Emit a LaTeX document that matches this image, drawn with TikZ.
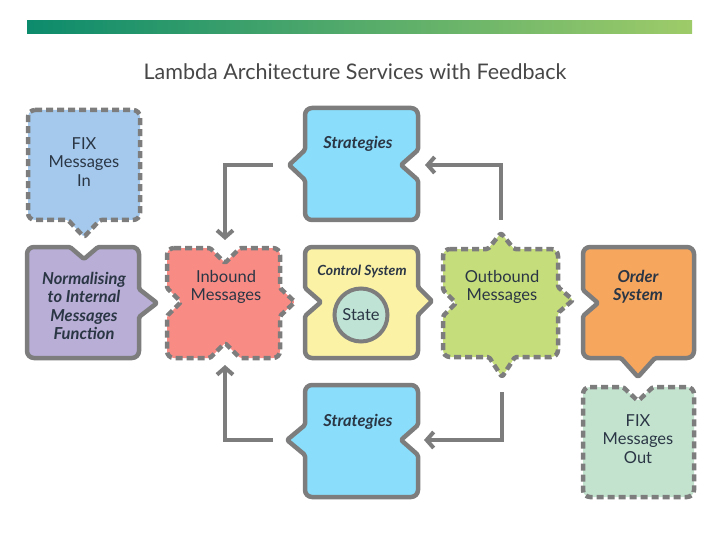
\documentclass[tikz,border=0pt]{standalone}
\usepackage{fontspec}
\setmainfont{Lato}
\usetikzlibrary{arrows.meta,calc}
\definecolor{rand}{HTML}{7D7D7D}
\definecolor{ink}{HTML}{2B3645}
\definecolor{titel}{HTML}{474747}
\definecolor{fixblue}{HTML}{A4C9EC}
\definecolor{lilac}{HTML}{B8AED6}
\definecolor{salmon}{HTML}{F98B85}
\definecolor{lemon}{HTML}{FBF2A6}
\definecolor{mint}{HTML}{BFE3D5}
\definecolor{lime}{HTML}{C6DD7B}
\definecolor{orange}{HTML}{F7A65E}
\definecolor{pale}{HTML}{C3E3CF}
\definecolor{sky}{HTML}{8ADEFB}
\definecolor{barA}{HTML}{0C8B6C}
\definecolor{barB}{HTML}{10A85A}
\definecolor{barC}{HTML}{9ECB69}

\begin{document}
\begin{tikzpicture}[x=1pt, y=-1pt, font=\fontsize{16.5}{18.5}\selectfont,
      >={Straight Barb[length=7pt,width=16pt]},
      rc/.style={rounded corners=7pt}, sc/.style={rounded corners=1.5pt},
      tile/.style={draw=rand, line width=4.5pt, line join=round},
      dashtile/.style={tile, dash pattern=on 7pt off 4pt},
      lbl/.style={align=center, text=ink},
      head/.style={lbl, font=\fontsize{16.5}{18.5}\selectfont\bfseries\itshape},
      flow/.style={draw=rand, line width=4pt, ->}]
    \useasboundingbox (0,0) rectangle (720,540);
    % bar and title
    \shade[left color=barA, middle color=barB, right color=barC] (27,21) rectangle (692,34);
    \node[text=titel, font=\fontsize{21.5}{24}\selectfont] (title) at (355,72)
         {Lambda Architecture Services with Feedback};
    % left column
    \path[dashtile, fill=fixblue] (28,110) [rc] -- (140,110) -- (140,220) [sc] -- (100,220)
         -- (84,237) -- (68,220) [rc] -- (28,220) -- cycle;
    \node[lbl] (fixin) at (84,162) {FIX\\Messages\\In};
    \path[tile, fill=lilac] (27,247) [sc] -- (70,247) -- (84,259) -- (98,247) [rc] -- (139,247)
         [sc] -- (139,289) -- (157,303) -- (139,317) [rc] -- (139,358) -- (27,358) -- cycle;
    \node[head] (norm) at (84,306) {Normalising\\to Internal\\Messages\\Function};
    % inbound
    \path[dashtile, fill=salmon] (167,248) [sc] -- (210,248) -- (225,263) -- (240,248)
         [rc] -- (280,248) [sc] -- (280,288) -- (295,302) -- (280,316) [rc] -- (280,358)
         [sc] -- (240,358) -- (225,343) -- (210,358) [rc] -- (167,358) [sc] -- (167,316)
         -- (181,302) -- (167,288) [rc] -- cycle;
    \node[lbl] (inb) at (226,287) {Inbound\\Messages};
    \coordinate (inb-n) at (225,248);
    \coordinate (inb-s) at (225,358);
    % control system
    \path[tile, fill=lemon] (305,247) [rc] -- (418,247) [sc] -- (418,287) -- (432,301)
         -- (418,315) [rc] -- (418,358) -- (305,358) [sc] -- (305,316) -- (321,302)
         -- (305,288) [rc] -- cycle;
    \node[head, font=\fontsize{14}{16}\selectfont\bfseries\itshape] (ctrl) at (362,271) {Control System};
    \node[circle, draw=rand, line width=4pt, fill=mint, minimum size=53pt, text=ink] (state) at (361,315) {State};
    % outbound
    \path[dashtile, fill=lime] (443,249) [sc] -- (488,249) -- (501,233) -- (514,249)
         [rc] -- (558,249) [sc] -- (558,287) -- (573,300) -- (558,313) [rc] -- (558,357)
         [sc] -- (515,357) -- (502,377) -- (489,357) [rc] -- (443,357) [sc] -- (443,316)
         -- (456,303) -- (443,290) [rc] -- cycle;
    \node[lbl] (outb) at (502,287) {Outbound\\Messages};
    \coordinate (outb-n) at (501,233);
    \coordinate (outb-s) at (502,377);
    % order system and fix out
    \path[tile, fill=orange] (583,247) [rc] -- (694,247) -- (694,358) [sc] -- (655,358)
         -- (638,377) -- (621,358) [rc] -- (583,358) [sc] -- (583,316) -- (598,303)
         -- (583,290) [rc] -- cycle;
    \node[head] (order) at (638,287) {Order\\System};
    \path[dashtile, fill=pale] (583,387) [sc] -- (623,387) -- (638,401) -- (653,387)
         [rc] -- (694,387) -- (694,497) -- (583,497) -- cycle;
    \node[lbl] (fixout) at (638,439) {FIX\\Messages\\Out};
    % strategies
    \path[tile, fill=sky] (305,108) [rc] -- (418,108) [sc] -- (418,150) -- (401,165)
         -- (418,180) [rc] -- (418,220) -- (305,220) [sc] -- (305,180) -- (289,165)
         -- (305,150) [rc] -- cycle;
    \node[head] (stratA) at (358,144) {Strategies};
    \coordinate (stratA-w) at (289,165);
    \coordinate (stratA-e) at (418,165);
    \path[tile, fill=sky] (305,385) [rc] -- (418,385) [sc] -- (418,425) -- (401,440)
         -- (418,455) [rc] -- (418,497) -- (305,497) [sc] -- (305,455) -- (287,440)
         -- (305,425) [rc] -- cycle;
    \node[head] (stratB) at (358,422) {Strategies};
    \coordinate (stratB-w) at (287,440);
    \coordinate (stratB-e) at (418,440);
    % feedback loops
    \draw[flow, shorten <=13pt, shorten >=7pt] (outb-n) |- (stratA-e);
    \draw[flow, shorten <=16pt, shorten >=8pt] (stratA-w) -| (inb-n);
    \draw[flow, shorten <=15pt, shorten >=6pt] (outb-s) |- (stratB-e);
    \draw[flow, shorten <=14pt, shorten >=7pt] (stratB-w) -| (inb-s);
\end{tikzpicture}
\end{document}
